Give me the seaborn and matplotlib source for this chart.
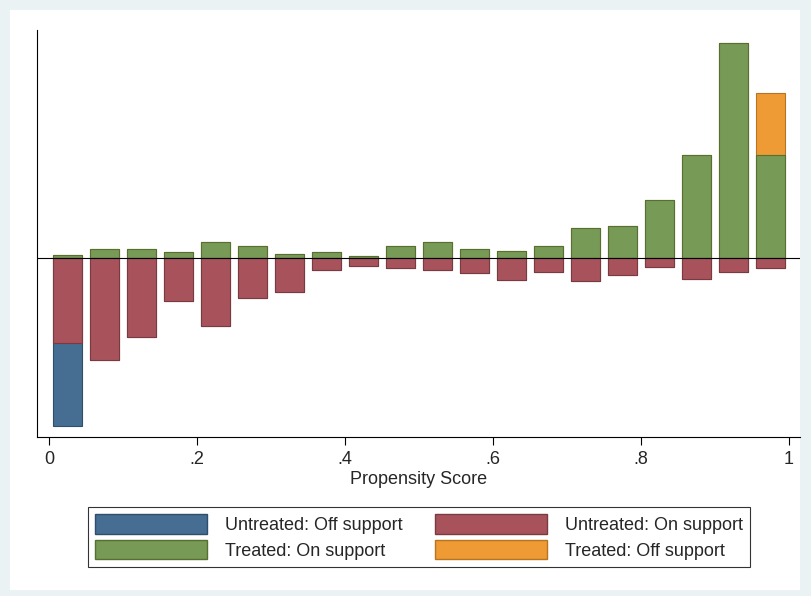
import matplotlib
matplotlib.use("Agg")
import matplotlib.pyplot as plt
import seaborn as sns
import numpy as np
import pandas as pd
from matplotlib.patches import Rectangle, Patch

centers = [0.025 + 0.05 * i for i in range(20)]
treated_on = [3, 9, 9, 6, 16, 12, 4, 6, 2, 12, 16, 9, 7, 12, 30, 32, 58, 103, 215, 103]
treated_off = [0]*19 + [62]
untreated_on = [85, 102, 79, 43, 68, 40, 34, 12, 8, 10, 12, 15, 22, 14, 23, 17, 9, 21, 14, 10]
untreated_off = [83] + [0]*19
xticks = [0, 0.2, 0.4, 0.6, 0.8, 1.0]
xticklabels = ["0", ".2", ".4", ".6", ".8", "1"]

c_blue, c_red, c_green, c_orange = "#456E92", "#A8535C", "#779A56", "#EE9A35"
e_blue, e_red, e_green, e_orange = "#2E4E6A", "#7A3A40", "#55702F", "#B8741F"

sns.set_style("white")
plt.rcParams["font.family"] = ["Liberation Sans", "DejaVu Sans"]
fig = plt.figure(figsize=(8.11, 5.96), dpi=100, facecolor="#EAF2F3")
bg = Rectangle((10/811, 6/596), 790/811, 580/596, transform=fig.transFigure,
               facecolor="white", edgecolor="none", zorder=-10)
fig.patches.append(bg)
ax = fig.add_axes([37/811, 159/596, 763/811, 407/596])
ax.set_zorder(1)
ax.set_facecolor("white")

df = pd.DataFrame({"x": centers,
                   "tot_t": np.array(treated_on) + np.array(treated_off),
                   "t_on": treated_on,
                   "tot_u": -(np.array(untreated_on) + np.array(untreated_off)),
                   "u_on": -np.array(untreated_on)})
kw = dict(native_scale=True, width=0.8, linewidth=0.8, ax=ax)
sns.barplot(data=df, x="x", y="tot_t", color=c_orange, edgecolor=e_orange, saturation=1, **kw)
sns.barplot(data=df, x="x", y="t_on", color=c_green, edgecolor=e_green, saturation=1, **kw)
sns.barplot(data=df, x="x", y="tot_u", color=c_blue, edgecolor=e_blue, saturation=1, **kw)
sns.barplot(data=df, x="x", y="u_on", color=c_red, edgecolor=e_red, saturation=1, **kw)

ax.axhline(0, color="black", linewidth=0.8)
ax.set_xlim(-12/740, 751/740)
ax.set_ylim(-(437-258), 258-30)
ax.set_xticks(xticks)
ax.set_xticklabels(xticklabels, fontsize=13)
ax.set_yticks([])
ax.set_ylabel("")
ax.set_xlabel("Propensity Score", fontsize=13, labelpad=2)
ax.tick_params(axis="x", bottom=True, direction="out", length=6, width=0.8, color="black", pad=4)
for s in ["top", "right"]:
    ax.spines[s].set_visible(False)
for s in ["left", "bottom"]:
    ax.spines[s].set_color("black")
    ax.spines[s].set_linewidth(0.8)

handles = [Patch(facecolor=c_blue, edgecolor=e_blue, label="Untreated: Off support"),
           Patch(facecolor=c_green, edgecolor=e_green, label="Treated: On support"),
           Patch(facecolor=c_red, edgecolor=e_red, label="Untreated: On support"),
           Patch(facecolor=c_orange, edgecolor=e_orange, label="Treated: Off support")]
leg = fig.legend(handles=handles, ncol=2, loc="center", bbox_to_anchor=(419/811, 1-537/596),
                 fontsize=13, handlelength=6.2, handleheight=1.3, columnspacing=1.8,
                 labelspacing=0.3, frameon=True, fancybox=False, edgecolor="black",
                 borderpad=0.4, handletextpad=1.0)
leg.get_frame().set_linewidth(0.8)
fig.savefig("out.png", dpi=100, facecolor=fig.get_facecolor())
